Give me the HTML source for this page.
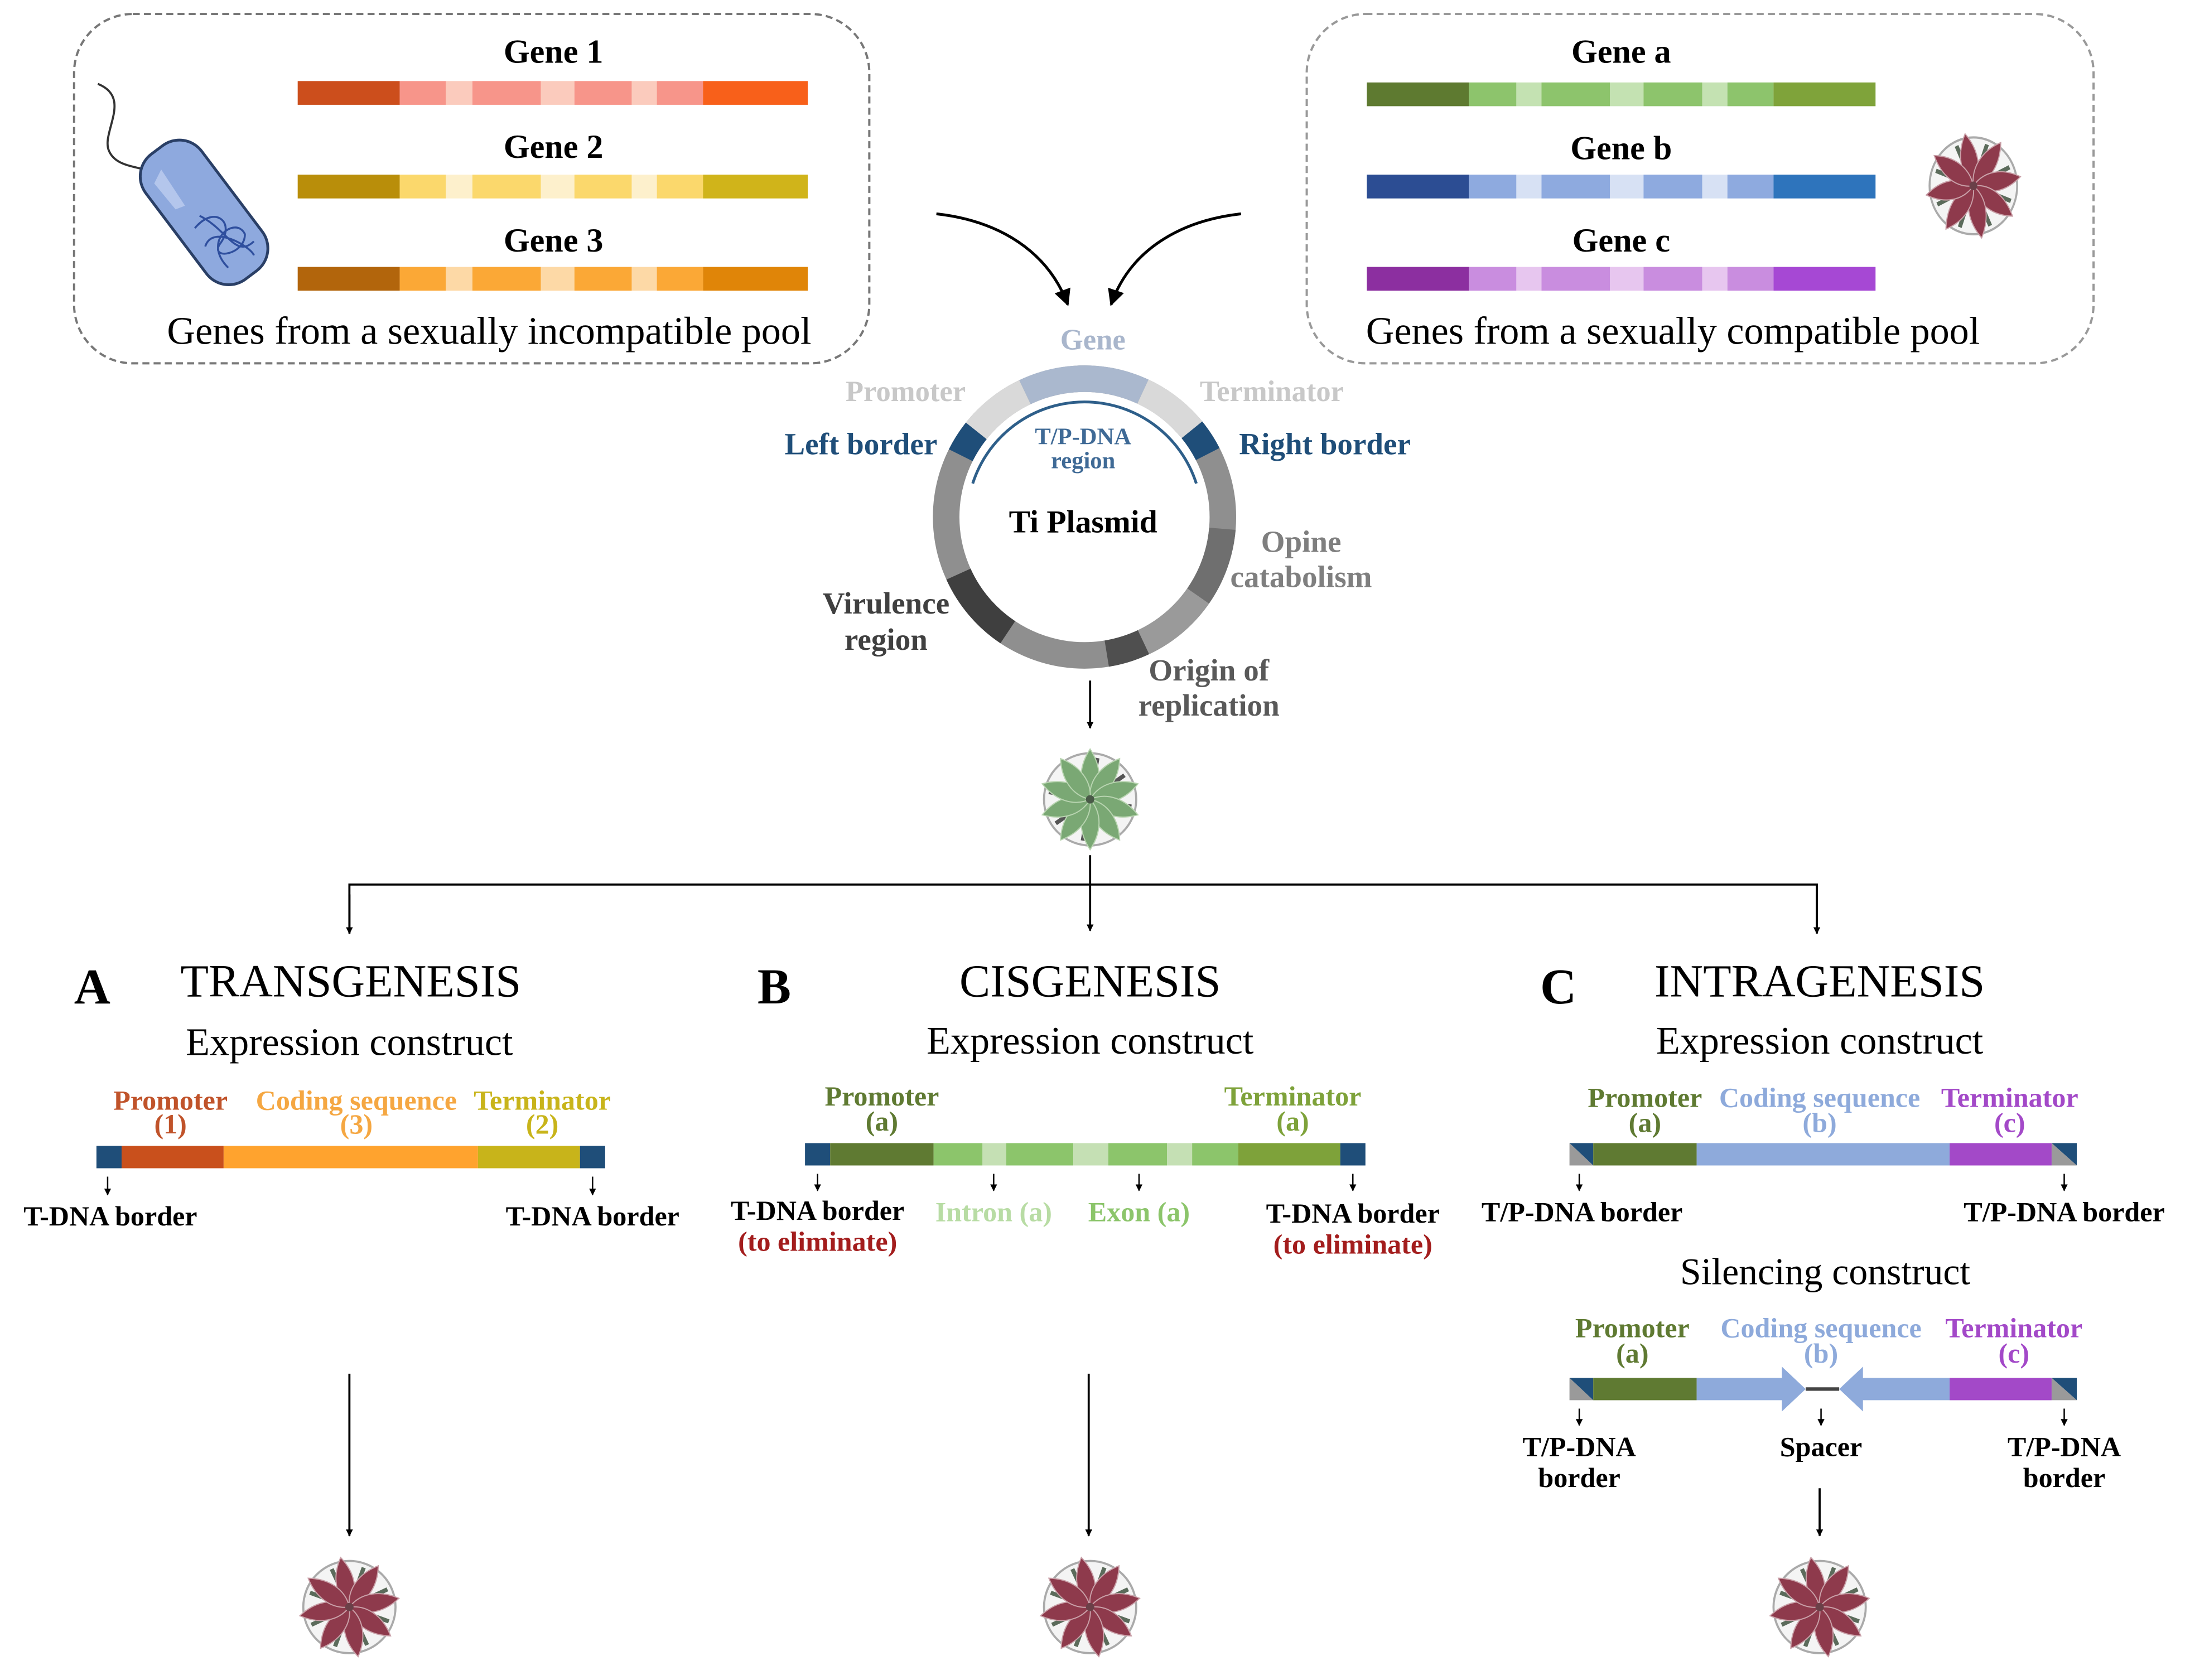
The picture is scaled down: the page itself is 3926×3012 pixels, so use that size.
<!DOCTYPE html>
<html><head><meta charset="utf-8"><style>
html,body{margin:0;padding:0;background:#fff}
svg{display:block}
text{font-family:"Liberation Serif",serif}
.b{font-weight:bold}
</style></head><body>
<svg width="3926" height="3012" viewBox="0 0 1567 1202.2" xmlns="http://www.w3.org/2000/svg">
<defs>
<marker id="ah" viewBox="0 0 10 10" refX="9" refY="5" markerWidth="5" markerHeight="6" orient="auto" markerUnits="userSpaceOnUse"><path d="M0,0 L10,5 L0,10 z" fill="#000"/></marker>
<marker id="ah2" viewBox="0 0 10 10" refX="9" refY="5" markerWidth="14" markerHeight="12" orient="auto" markerUnits="userSpaceOnUse"><path d="M0,0 L10,5 L0,10 z" fill="#000"/></marker>
<path id="leafR" d="M0,0 C-9,-10 -8,-24 0,-36 C8,-24 9,-10 0,0 z"/>
<g id="redplant">
<circle r="33" fill="#f4f4f4" stroke="#aaa" stroke-width="1.5"/>
<g stroke="#5b6b5b" stroke-width="3">
<line x1="0" y1="0" x2="0" y2="-30" transform="rotate(20)"/><line x1="0" y1="0" x2="0" y2="-30" transform="rotate(65)"/><line x1="0" y1="0" x2="0" y2="-30" transform="rotate(110)"/><line x1="0" y1="0" x2="0" y2="-30" transform="rotate(155)"/><line x1="0" y1="0" x2="0" y2="-30" transform="rotate(200)"/><line x1="0" y1="0" x2="0" y2="-30" transform="rotate(245)"/><line x1="0" y1="0" x2="0" y2="-30" transform="rotate(290)"/><line x1="0" y1="0" x2="0" y2="-30" transform="rotate(335)"/>
</g>
<g fill="#8e3a4c" stroke="#c9a0a8" stroke-width="0.8">
<use href="#leafR" transform="rotate(-10)"/><use href="#leafR" transform="rotate(35)"/><use href="#leafR" transform="rotate(80)"/><use href="#leafR" transform="rotate(125)"/><use href="#leafR" transform="rotate(170)"/><use href="#leafR" transform="rotate(215)"/><use href="#leafR" transform="rotate(260)"/><use href="#leafR" transform="rotate(305)"/>
</g>
<circle r="3" fill="#6a4048"/>
</g>
<g id="greenplant">
<circle r="33" fill="#f4f4f4" stroke="#aaa" stroke-width="1.5"/>
<g stroke="#555" stroke-width="3">
<line x1="0" y1="0" x2="0" y2="-30" transform="rotate(10)"/><line x1="0" y1="0" x2="0" y2="-30" transform="rotate(55)"/><line x1="0" y1="0" x2="0" y2="-30" transform="rotate(100)"/><line x1="0" y1="0" x2="0" y2="-30" transform="rotate(145)"/><line x1="0" y1="0" x2="0" y2="-30" transform="rotate(190)"/><line x1="0" y1="0" x2="0" y2="-30" transform="rotate(235)"/><line x1="0" y1="0" x2="0" y2="-30" transform="rotate(280)"/><line x1="0" y1="0" x2="0" y2="-30" transform="rotate(325)"/>
</g>
<g fill="#7aa874" stroke="#b8d4b0" stroke-width="0.8">
<use href="#leafR" transform="rotate(0)"/><use href="#leafR" transform="rotate(36)"/><use href="#leafR" transform="rotate(72)"/><use href="#leafR" transform="rotate(108)"/><use href="#leafR" transform="rotate(144)"/><use href="#leafR" transform="rotate(180)"/><use href="#leafR" transform="rotate(216)"/><use href="#leafR" transform="rotate(252)"/><use href="#leafR" transform="rotate(288)"/><use href="#leafR" transform="rotate(324)"/>
</g>
<circle r="3" fill="#4a5a48"/>
</g>
</defs>

<!-- Left box -->
<rect x="53" y="10" width="569" height="250" rx="42" fill="none" stroke="#777" stroke-width="1.6" stroke-dasharray="5,3"/>
<path d="M70,60 C95,70 72,95 78,108 C84,122 105,118 122,128" fill="none" stroke="#333" stroke-width="1.5"/>
<g transform="translate(146,152) rotate(-37)">
<rect x="-25" y="-56" width="50" height="112" rx="20" fill="#8ea9de" stroke="#2a3f66" stroke-width="2"/>
<path d="M-16,-38 L-6,-43 L-8,-12 L-15,-14 z" fill="#b4c6ec"/>
<path d="M-12,5 C10,0 14,20 -5,25 C-17,30 5,42 14,30 C17,15 -14,15 -10,42 M-14,20 C0,10 12,40 10,46 M-4,0 C6,20 -2,40 16,38" fill="none" stroke="#2f4f9e" stroke-width="1.4"/>
</g>
<text x="396" y="45" font-size="24" text-anchor="middle" class="b">Gene 1</text>
<g transform="translate(213,58)">
<rect x="0" width="73" height="17" fill="#cc4e1c"/><rect x="73" width="33" height="17" fill="#f7958a"/><rect x="106" width="19" height="17" fill="#fbcbbd"/><rect x="125" width="49" height="17" fill="#f7958a"/><rect x="174" width="24" height="17" fill="#fbcbbd"/><rect x="198" width="41" height="17" fill="#f7958a"/><rect x="239" width="18" height="17" fill="#fbcbbd"/><rect x="257" width="33" height="17" fill="#f7958a"/><rect x="290" width="75" height="17" fill="#f8601a"/>
</g>
<text x="396" y="113" font-size="24" text-anchor="middle" class="b">Gene 2</text>
<g transform="translate(213,125)">
<rect x="0" width="73" height="17" fill="#b98e0a"/><rect x="73" width="33" height="17" fill="#fbd86c"/><rect x="106" width="19" height="17" fill="#fdf0cc"/><rect x="125" width="49" height="17" fill="#fbd86c"/><rect x="174" width="24" height="17" fill="#fdf0cc"/><rect x="198" width="41" height="17" fill="#fbd86c"/><rect x="239" width="18" height="17" fill="#fdf0cc"/><rect x="257" width="33" height="17" fill="#fbd86c"/><rect x="290" width="75" height="17" fill="#d0b41a"/>
</g>
<text x="396" y="180" font-size="24" text-anchor="middle" class="b">Gene 3</text>
<g transform="translate(213,191)">
<rect x="0" width="73" height="17" fill="#b2650c"/><rect x="73" width="33" height="17" fill="#fba836"/><rect x="106" width="19" height="17" fill="#fdd9a6"/><rect x="125" width="49" height="17" fill="#fba836"/><rect x="174" width="24" height="17" fill="#fdd9a6"/><rect x="198" width="41" height="17" fill="#fba836"/><rect x="239" width="18" height="17" fill="#fdd9a6"/><rect x="257" width="33" height="17" fill="#fba836"/><rect x="290" width="75" height="17" fill="#e08508"/>
</g>
<text x="350" y="246" font-size="28" text-anchor="middle">Genes from a sexually incompatible pool</text>

<!-- Right box -->
<rect x="935" y="10" width="563" height="250" rx="42" fill="none" stroke="#999" stroke-width="1.6" stroke-dasharray="5,3"/>
<text x="1160" y="45" font-size="24" text-anchor="middle" class="b">Gene a</text>
<g transform="translate(978,59)">
<rect x="0" width="73" height="17" fill="#5e7a30"/><rect x="73" width="34" height="17" fill="#8dc46c"/><rect x="107" width="18" height="17" fill="#c4e2b2"/><rect x="125" width="49" height="17" fill="#8dc46c"/><rect x="174" width="24" height="17" fill="#c4e2b2"/><rect x="198" width="42" height="17" fill="#8dc46c"/><rect x="240" width="18" height="17" fill="#c4e2b2"/><rect x="258" width="33" height="17" fill="#8dc46c"/><rect x="291" width="73" height="17" fill="#7fa33a"/>
</g>
<text x="1160" y="114" font-size="24" text-anchor="middle" class="b">Gene b</text>
<g transform="translate(978,125)">
<rect x="0" width="73" height="17" fill="#2c4d93"/><rect x="73" width="34" height="17" fill="#8eaadf"/><rect x="107" width="18" height="17" fill="#d7e1f4"/><rect x="125" width="49" height="17" fill="#8eaadf"/><rect x="174" width="24" height="17" fill="#d7e1f4"/><rect x="198" width="42" height="17" fill="#8eaadf"/><rect x="240" width="18" height="17" fill="#d7e1f4"/><rect x="258" width="33" height="17" fill="#8eaadf"/><rect x="291" width="73" height="17" fill="#2e74bc"/>
</g>
<text x="1160" y="180" font-size="24" text-anchor="middle" class="b">Gene c</text>
<g transform="translate(978,191)">
<rect x="0" width="73" height="17" fill="#8c2fa0"/><rect x="73" width="34" height="17" fill="#c98ddf"/><rect x="107" width="18" height="17" fill="#e7c6ef"/><rect x="125" width="49" height="17" fill="#c98ddf"/><rect x="174" width="24" height="17" fill="#e7c6ef"/><rect x="198" width="42" height="17" fill="#c98ddf"/><rect x="240" width="18" height="17" fill="#e7c6ef"/><rect x="258" width="33" height="17" fill="#c98ddf"/><rect x="291" width="73" height="17" fill="#a648d4"/>
</g>
<use href="#redplant" transform="translate(1412,133) scale(0.95,1.05)"/>
<text x="1197" y="246" font-size="28" text-anchor="middle">Genes from a sexually compatible pool</text>

<path d="M670,153 C715,158 750,180 764,218" fill="none" stroke="#000" stroke-width="2" marker-end="url(#ah2)"/>
<path d="M888,153 C843,158 808,180 795,218" fill="none" stroke="#000" stroke-width="2" marker-end="url(#ah2)"/>

<!-- plasmid -->
<g transform="translate(776,370) rotate(-90)" fill="none" stroke-width="19">
<circle r="99" pathLength="360" stroke="#8f8f8f"/>
<circle r="99" pathLength="360" stroke="#aab8ce" stroke-dasharray="50 310" stroke-dashoffset="25"/>
<circle r="99" pathLength="360" stroke="#d9d9d9" stroke-dasharray="26 334" stroke-dashoffset="-25"/>
<circle r="99" pathLength="360" stroke="#1f4e79" stroke-dasharray="12 348" stroke-dashoffset="-51"/>
<circle r="99" pathLength="360" stroke="#6f6f6f" stroke-dasharray="30 330" stroke-dashoffset="-95"/>
<circle r="99" pathLength="360" stroke="#9a9a9a" stroke-dasharray="30 330" stroke-dashoffset="-125"/>
<circle r="99" pathLength="360" stroke="#4f4f4f" stroke-dasharray="16 344" stroke-dashoffset="-155"/>
<circle r="99" pathLength="360" stroke="#3f3f3f" stroke-dasharray="32 328" stroke-dashoffset="-214"/>
<circle r="99" pathLength="360" stroke="#1f4e79" stroke-dasharray="12 348" stroke-dashoffset="-297"/>
<circle r="99" pathLength="360" stroke="#d9d9d9" stroke-dasharray="26 334" stroke-dashoffset="-309"/>
</g>
<path d="M696,346 A84,84 0 0 1 856,346" fill="none" stroke="#2e5f8a" stroke-width="2"/>
<text x="782" y="250" font-size="21" text-anchor="middle" fill="#a9b6cc" class="b">Gene</text>
<text x="648" y="287" font-size="21" text-anchor="middle" fill="#c8c8c8" class="b">Promoter</text>
<text x="910" y="287" font-size="21" text-anchor="middle" fill="#c8c8c8" class="b">Terminator</text>
<text x="616" y="325" font-size="22" text-anchor="middle" fill="#1f4e79" class="b">Left border</text>
<text x="948" y="325" font-size="22" text-anchor="middle" fill="#1f4e79" class="b">Right border</text>
<text x="775" y="318" font-size="17" text-anchor="middle" fill="#3f6a96" class="b">T/P-DNA</text>
<text x="775" y="335" font-size="17" text-anchor="middle" fill="#3f6a96" class="b">region</text>
<text x="775" y="381" font-size="23" text-anchor="middle" class="b">Ti Plasmid</text>
<text x="931" y="395" font-size="22" text-anchor="middle" fill="#7f7f7f" class="b">Opine</text>
<text x="931" y="420" font-size="22" text-anchor="middle" fill="#7f7f7f" class="b">catabolism</text>
<text x="634" y="439" font-size="22" text-anchor="middle" fill="#404040" class="b">Virulence</text>
<text x="634" y="465" font-size="22" text-anchor="middle" fill="#404040" class="b">region</text>
<text x="865" y="487" font-size="22" text-anchor="middle" fill="#595959" class="b">Origin of</text>
<text x="865" y="512" font-size="22" text-anchor="middle" fill="#595959" class="b">replication</text>

<line x1="780" y1="487" x2="780" y2="521" stroke="#000" stroke-width="1.5" marker-end="url(#ah)"/>
<use href="#greenplant" transform="translate(780,572)"/>
<line x1="780" y1="612" x2="780" y2="666" stroke="#000" stroke-width="1.5" marker-end="url(#ah)"/>
<polyline points="250,668 250,633 1300,633 1300,668" fill="none" stroke="#000" stroke-width="1.5"/>
<line x1="250" y1="640" x2="250" y2="668" stroke="#000" stroke-width="1.5" marker-end="url(#ah)"/>
<line x1="1300" y1="640" x2="1300" y2="668" stroke="#000" stroke-width="1.5" marker-end="url(#ah)"/>

<text x="66" y="718" font-size="36" text-anchor="middle" class="b">A</text>
<text x="251" y="713" font-size="33" text-anchor="middle">TRANSGENESIS</text>
<text x="554" y="718" font-size="36" text-anchor="middle" class="b">B</text>
<text x="780" y="713" font-size="33" text-anchor="middle">CISGENESIS</text>
<text x="1115" y="718" font-size="36" text-anchor="middle" class="b">C</text>
<text x="1302" y="713" font-size="33" text-anchor="middle">INTRAGENESIS</text>
<text x="250" y="755" font-size="28" text-anchor="middle">Expression construct</text>
<text x="780" y="754" font-size="28" text-anchor="middle">Expression construct</text>
<text x="1302" y="754" font-size="28" text-anchor="middle">Expression construct</text>

<!-- A construct -->
<g font-size="20" text-anchor="middle" class="b">
<text x="122" y="794" fill="#c0532a">Promoter</text><text x="122" y="811" fill="#c0532a">(1)</text>
<text x="255" y="794" fill="#f5a742">Coding sequence</text><text x="255" y="811" fill="#f5a742">(3)</text>
<text x="388" y="794" fill="#c8b41a">Terminator</text><text x="388" y="811" fill="#c8b41a">(2)</text>
</g>
<rect x="69" y="820" width="18" height="16" fill="#1f4e79"/><rect x="87" y="820" width="73" height="16" fill="#c9501c"/><rect x="160" y="820" width="182" height="16" fill="#ffa32e"/><rect x="342" y="820" width="73" height="16" fill="#c8b41a"/><rect x="415" y="820" width="18" height="16" fill="#1f4e79"/>
<g stroke="#000" stroke-width="1"><line x1="77" y1="842" x2="77" y2="855" marker-end="url(#ah)"/><line x1="424" y1="842" x2="424" y2="855" marker-end="url(#ah)"/></g>
<text x="79" y="877" font-size="20" text-anchor="middle" class="b">T-DNA border</text>
<text x="424" y="877" font-size="20" text-anchor="middle" class="b">T-DNA border</text>

<!-- B construct -->
<g font-size="20" text-anchor="middle" class="b">
<text x="631" y="791" fill="#5f7a32">Promoter</text><text x="631" y="809" fill="#5f7a32">(a)</text>
<text x="925" y="791" fill="#7ea23a">Terminator</text><text x="925" y="809" fill="#7ea23a">(a)</text>
</g>
<rect x="576" y="818" width="18" height="16" fill="#1f4e79"/><rect x="594" y="818" width="74" height="16" fill="#5f7a32"/><rect x="668" y="818" width="35" height="16" fill="#8cc56b"/><rect x="703" y="818" width="17" height="16" fill="#c5e0b4"/><rect x="720" y="818" width="48" height="16" fill="#8cc56b"/><rect x="768" y="818" width="25" height="16" fill="#c5e0b4"/><rect x="793" y="818" width="42" height="16" fill="#8cc56b"/><rect x="835" y="818" width="18" height="16" fill="#c5e0b4"/><rect x="853" y="818" width="33" height="16" fill="#8cc56b"/><rect x="886" y="818" width="73" height="16" fill="#7ea23a"/><rect x="959" y="818" width="18" height="16" fill="#1f4e79"/>
<g stroke="#000" stroke-width="1"><line x1="585" y1="840" x2="585" y2="852" marker-end="url(#ah)"/><line x1="711" y1="840" x2="711" y2="852" marker-end="url(#ah)"/><line x1="815" y1="840" x2="815" y2="852" marker-end="url(#ah)"/><line x1="968" y1="840" x2="968" y2="852" marker-end="url(#ah)"/></g>
<g font-size="20" text-anchor="middle" class="b">
<text x="585" y="873">T-DNA border</text><text x="585" y="895" fill="#a31d1d">(to eliminate)</text>
<text x="711" y="874" fill="#b8dca4">Intron (a)</text>
<text x="815" y="874" fill="#8cc56b">Exon (a)</text>
<text x="968" y="875">T-DNA border</text><text x="968" y="897" fill="#a31d1d">(to eliminate)</text>
</g>

<!-- C expression -->
<g font-size="20" text-anchor="middle" class="b">
<text x="1177" y="792" fill="#5f7a32">Promoter</text><text x="1177" y="810" fill="#5f7a32">(a)</text>
<text x="1302" y="792" fill="#8eaadb">Coding sequence</text><text x="1302" y="810" fill="#8eaadb">(b)</text>
<text x="1438" y="792" fill="#a349c8">Terminator</text><text x="1438" y="810" fill="#a349c8">(c)</text>
</g>
<path d="M1123,818 h17 v16 z" fill="#1f4e79"/><path d="M1123,818 L1140,834 H1123 z" fill="#9a9a9a"/>
<rect x="1140" y="818" width="74" height="16" fill="#5f7a32"/><rect x="1214" y="818" width="181" height="16" fill="#8eaadb"/><rect x="1395" y="818" width="73" height="16" fill="#a349c8"/>
<path d="M1468,818 h18 v16 z" fill="#1f4e79"/><path d="M1468,818 L1486,834 H1468 z" fill="#9a9a9a"/>
<g stroke="#000" stroke-width="1"><line x1="1130" y1="840" x2="1130" y2="852" marker-end="url(#ah)"/><line x1="1477" y1="840" x2="1477" y2="852" marker-end="url(#ah)"/></g>
<text x="1132" y="874" font-size="20" text-anchor="middle" class="b">T/P-DNA border</text>
<text x="1477" y="874" font-size="20" text-anchor="middle" class="b">T/P-DNA border</text>
<text x="1306" y="919" font-size="27" text-anchor="middle">Silencing construct</text>

<!-- C silencing -->
<g font-size="20" text-anchor="middle" class="b">
<text x="1168" y="957" fill="#5f7a32">Promoter</text><text x="1168" y="975" fill="#5f7a32">(a)</text>
<text x="1303" y="957" fill="#8eaadb">Coding sequence</text><text x="1303" y="975" fill="#8eaadb">(b)</text>
<text x="1441" y="957" fill="#a349c8">Terminator</text><text x="1441" y="975" fill="#a349c8">(c)</text>
</g>
<path d="M1123,986 h17 v16 z" fill="#1f4e79"/><path d="M1123,986 L1140,1002 H1123 z" fill="#9a9a9a"/>
<rect x="1140" y="986" width="74" height="16" fill="#5f7a32"/>
<path d="M1214,986 H1275 V978 L1292,994 L1275,1010 V1002 H1214 z" fill="#8eaadb"/>
<line x1="1292" y1="994" x2="1316" y2="994" stroke="#444" stroke-width="2.5"/>
<path d="M1395,986 H1333 V978 L1316,994 L1333,1010 V1002 H1395 z" fill="#8eaadb"/>
<rect x="1395" y="986" width="73" height="16" fill="#a349c8"/>
<path d="M1468,986 h18 v16 z" fill="#1f4e79"/><path d="M1468,986 L1486,1002 H1468 z" fill="#9a9a9a"/>
<g stroke="#000" stroke-width="1"><line x1="1130" y1="1008" x2="1130" y2="1020" marker-end="url(#ah)"/><line x1="1303" y1="1008" x2="1303" y2="1020" marker-end="url(#ah)"/><line x1="1477" y1="1008" x2="1477" y2="1020" marker-end="url(#ah)"/></g>
<g font-size="20" text-anchor="middle" class="b">
<text x="1130" y="1042">T/P-DNA</text><text x="1130" y="1064">border</text>
<text x="1303" y="1042">Spacer</text>
<text x="1477" y="1042">T/P-DNA</text><text x="1477" y="1064">border</text>
</g>

<g stroke="#000" stroke-width="1.5">
<line x1="250" y1="983" x2="250" y2="1099" marker-end="url(#ah)"/>
<line x1="779" y1="983" x2="779" y2="1099" marker-end="url(#ah)"/>
<line x1="1302" y1="1065" x2="1302" y2="1099" marker-end="url(#ah)"/>
</g>
<use href="#redplant" transform="translate(250,1150)"/>
<use href="#redplant" transform="translate(780,1150)"/>
<use href="#redplant" transform="translate(1302,1150)"/>
</svg>
</body></html>
